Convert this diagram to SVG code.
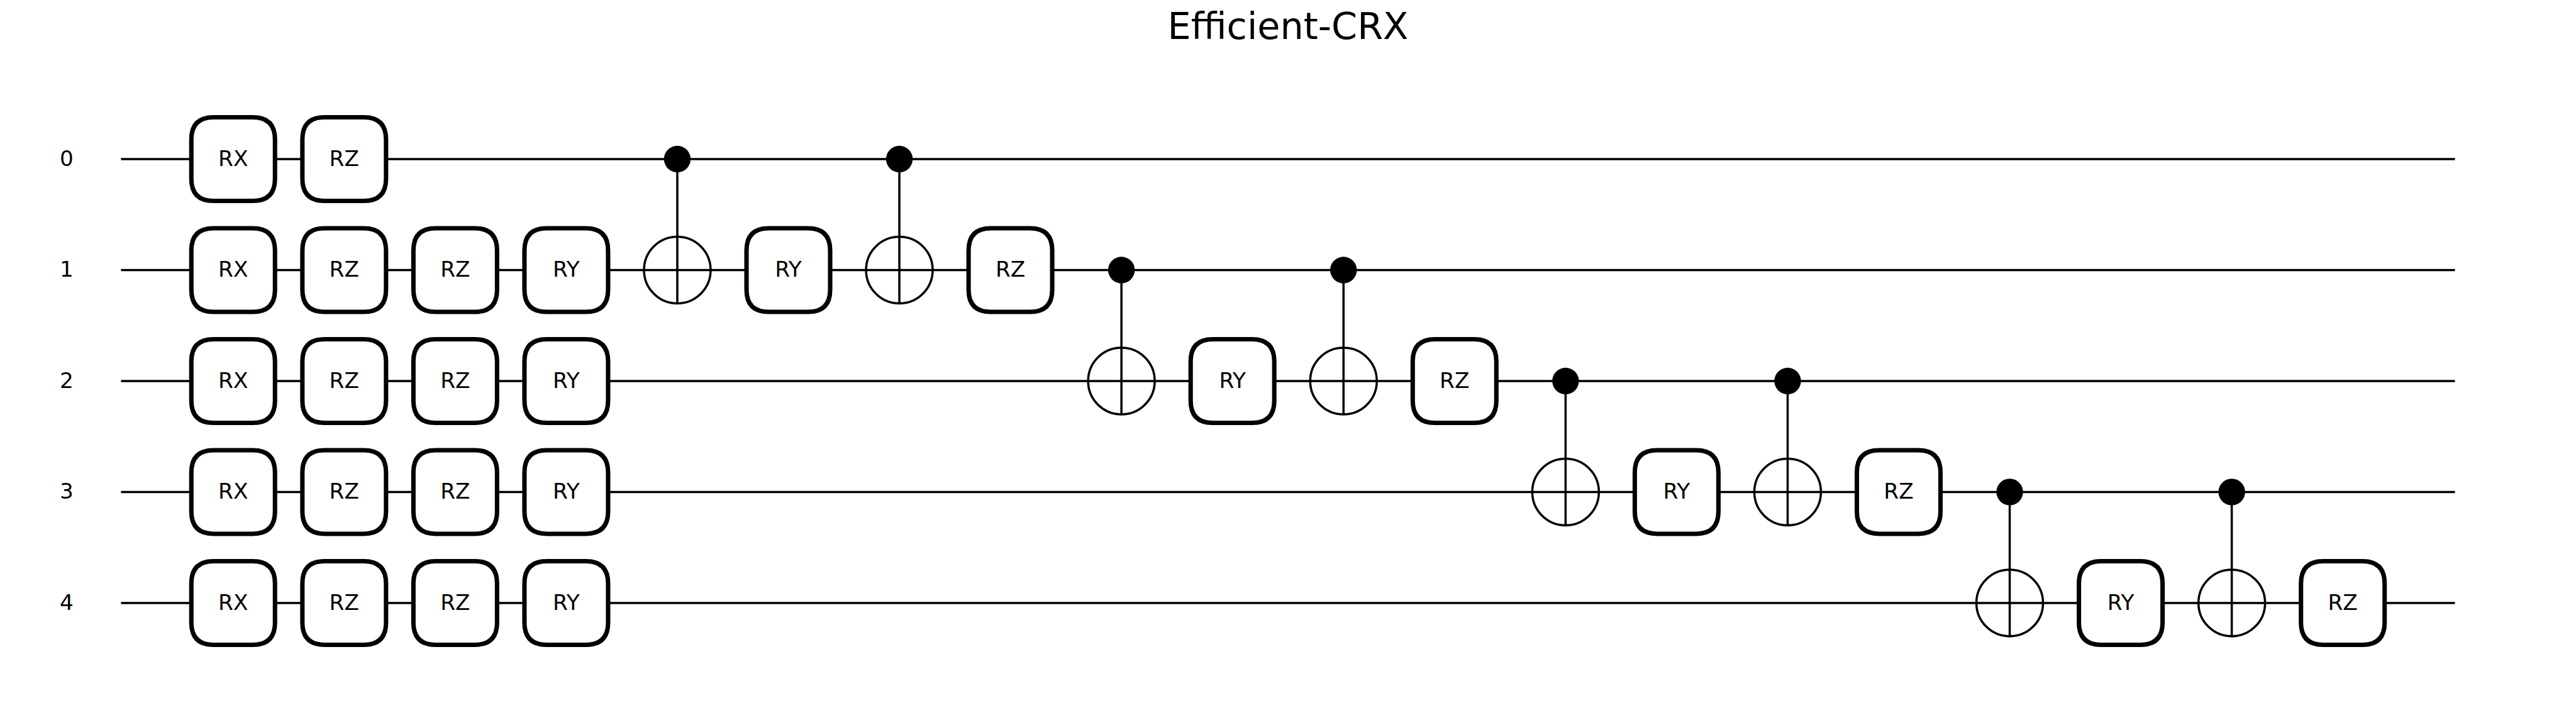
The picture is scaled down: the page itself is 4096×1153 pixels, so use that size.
<svg xmlns="http://www.w3.org/2000/svg" xmlns:xlink="http://www.w3.org/1999/xlink" width="4096" height="1153" viewBox="0 0 4096 1153">
<style>
text { font-family: "DejaVu Sans", sans-serif; fill: #000; text-anchor: middle; }
.title { font-size: 100px; }
.label { font-size: 58.33px; }
.wire { stroke: #000; stroke-width: 6; stroke-linecap: square; fill: none; }
.link { stroke: #000; stroke-width: 6; stroke-linecap: butt; fill: none; }
.gate { fill: #fff; stroke: #000; stroke-width: 12; stroke-linejoin: round; }
.dot { fill: #000; stroke: none; }
.target { fill: none; stroke: #000; stroke-width: 6; }
</style>
<defs>
<path id="box" d="M-53-113H53Q113-113 113-53V53Q113 113 53 113H-53Q-113 113-113 53V-53Q-113-113-53-113Z"/>
</defs>
<rect x="0" y="0" width="4096" height="1153" fill="#fff"/>
<g transform="scale(0.5885 0.5883)">
<text class="title" x="3480" y="106">Efficient-CRX</text>
<g id="connectors">
<line class="wire" x1="330" y1="430" x2="6630" y2="430"/>
<line class="wire" x1="330" y1="730" x2="6630" y2="730"/>
<line class="wire" x1="330" y1="1030" x2="6630" y2="1030"/>
<line class="wire" x1="330" y1="1330" x2="6630" y2="1330"/>
<line class="wire" x1="330" y1="1630" x2="6630" y2="1630"/>
<line class="link" x1="1830" y1="430" x2="1830" y2="820"/>
<line class="link" x1="2430" y1="430" x2="2430" y2="820"/>
<line class="link" x1="3030" y1="730" x2="3030" y2="1120"/>
<line class="link" x1="3630" y1="730" x2="3630" y2="1120"/>
<line class="link" x1="4230" y1="1030" x2="4230" y2="1420"/>
<line class="link" x1="4830" y1="1030" x2="4830" y2="1420"/>
<line class="link" x1="5430" y1="1330" x2="5430" y2="1720"/>
<line class="link" x1="6030" y1="1330" x2="6030" y2="1720"/>
</g>
<g id="label-0"><text class="label" x="180" y="448">0</text></g>
<g id="label-1"><text class="label" x="180" y="748">1</text></g>
<g id="label-2"><text class="label" x="180" y="1048">2</text></g>
<g id="label-3"><text class="label" x="180" y="1348">3</text></g>
<g id="label-4"><text class="label" x="180" y="1648">4</text></g>
<g id="q0-rx"><use href="#box" class="gate" x="630" y="430"/><text class="label" x="630" y="448">RX</text></g>
<g id="q0-rz"><use href="#box" class="gate" x="930" y="430"/><text class="label" x="930" y="448">RZ</text></g>
<g id="q1-rx"><use href="#box" class="gate" x="630" y="730"/><text class="label" x="630" y="748">RX</text></g>
<g id="q1-rz"><use href="#box" class="gate" x="930" y="730"/><text class="label" x="930" y="748">RZ</text></g>
<g id="q1-rz2"><use href="#box" class="gate" x="1230" y="730"/><text class="label" x="1230" y="748">RZ</text></g>
<g id="q1-ry"><use href="#box" class="gate" x="1530" y="730"/><text class="label" x="1530" y="748">RY</text></g>
<g id="q2-rx"><use href="#box" class="gate" x="630" y="1030"/><text class="label" x="630" y="1048">RX</text></g>
<g id="q2-rz"><use href="#box" class="gate" x="930" y="1030"/><text class="label" x="930" y="1048">RZ</text></g>
<g id="q2-rz2"><use href="#box" class="gate" x="1230" y="1030"/><text class="label" x="1230" y="1048">RZ</text></g>
<g id="q2-ry"><use href="#box" class="gate" x="1530" y="1030"/><text class="label" x="1530" y="1048">RY</text></g>
<g id="q3-rx"><use href="#box" class="gate" x="630" y="1330"/><text class="label" x="630" y="1348">RX</text></g>
<g id="q3-rz"><use href="#box" class="gate" x="930" y="1330"/><text class="label" x="930" y="1348">RZ</text></g>
<g id="q3-rz2"><use href="#box" class="gate" x="1230" y="1330"/><text class="label" x="1230" y="1348">RZ</text></g>
<g id="q3-ry"><use href="#box" class="gate" x="1530" y="1330"/><text class="label" x="1530" y="1348">RY</text></g>
<g id="q4-rx"><use href="#box" class="gate" x="630" y="1630"/><text class="label" x="630" y="1648">RX</text></g>
<g id="q4-rz"><use href="#box" class="gate" x="930" y="1630"/><text class="label" x="930" y="1648">RZ</text></g>
<g id="q4-rz2"><use href="#box" class="gate" x="1230" y="1630"/><text class="label" x="1230" y="1648">RZ</text></g>
<g id="q4-ry"><use href="#box" class="gate" x="1530" y="1630"/><text class="label" x="1530" y="1648">RY</text></g>
<g id="cx-0-1-a"><circle class="dot" cx="1830" cy="430" r="36"/><circle class="target" cx="1830" cy="730" r="90"/></g>
<g id="q1-ry2"><use href="#box" class="gate" x="2130" y="730"/><text class="label" x="2130" y="748">RY</text></g>
<g id="cx-0-1-b"><circle class="dot" cx="2430" cy="430" r="36"/><circle class="target" cx="2430" cy="730" r="90"/></g>
<g id="q1-rz3"><use href="#box" class="gate" x="2730" y="730"/><text class="label" x="2730" y="748">RZ</text></g>
<g id="cx-1-2-a"><circle class="dot" cx="3030" cy="730" r="36"/><circle class="target" cx="3030" cy="1030" r="90"/></g>
<g id="q2-ry2"><use href="#box" class="gate" x="3330" y="1030"/><text class="label" x="3330" y="1048">RY</text></g>
<g id="cx-1-2-b"><circle class="dot" cx="3630" cy="730" r="36"/><circle class="target" cx="3630" cy="1030" r="90"/></g>
<g id="q2-rz3"><use href="#box" class="gate" x="3930" y="1030"/><text class="label" x="3930" y="1048">RZ</text></g>
<g id="cx-2-3-a"><circle class="dot" cx="4230" cy="1030" r="36"/><circle class="target" cx="4230" cy="1330" r="90"/></g>
<g id="q3-ry2"><use href="#box" class="gate" x="4530" y="1330"/><text class="label" x="4530" y="1348">RY</text></g>
<g id="cx-2-3-b"><circle class="dot" cx="4830" cy="1030" r="36"/><circle class="target" cx="4830" cy="1330" r="90"/></g>
<g id="q3-rz3"><use href="#box" class="gate" x="5130" y="1330"/><text class="label" x="5130" y="1348">RZ</text></g>
<g id="cx-3-4-a"><circle class="dot" cx="5430" cy="1330" r="36"/><circle class="target" cx="5430" cy="1630" r="90"/></g>
<g id="q4-ry2"><use href="#box" class="gate" x="5730" y="1630"/><text class="label" x="5730" y="1648">RY</text></g>
<g id="cx-3-4-b"><circle class="dot" cx="6030" cy="1330" r="36"/><circle class="target" cx="6030" cy="1630" r="90"/></g>
<g id="q4-rz3"><use href="#box" class="gate" x="6330" y="1630"/><text class="label" x="6330" y="1648">RZ</text></g>
</g>
</svg>
